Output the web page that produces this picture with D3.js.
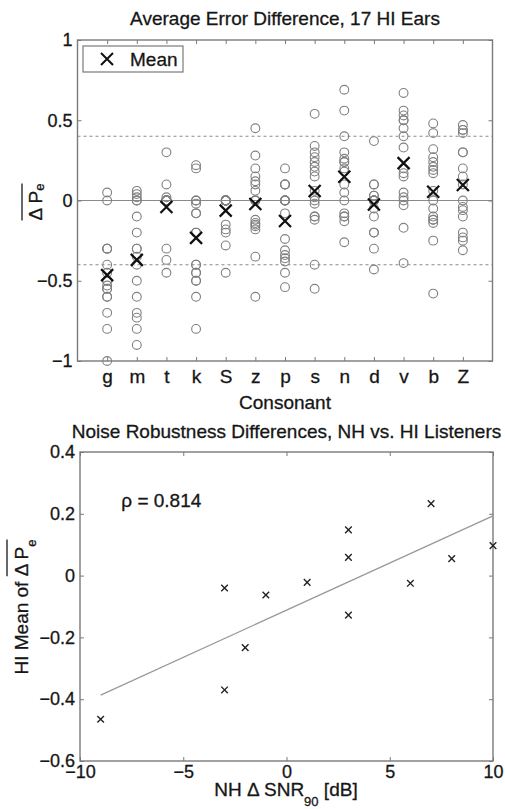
<!DOCTYPE html>
<html>
<head>
  <meta charset="utf-8">
  <title>Average Error Difference / Noise Robustness</title>
  <style>
    body { margin: 0; background: #fff; }
    svg { display: block; font-family: "Liberation Sans", Arial, sans-serif; }
    svg text { fill: #161616; stroke: #161616; stroke-width: 0.3px; }
    .tick line { stroke: #7a7a7a; }
  </style>
</head>
<body>
<svg width="505" height="809"></svg>
<script src="https://d3js.org/d3.v7.min.js"></script>
<script>
// consonants in the order they appear on the top panel
var consonants = ['g', 'm', 't', 'k', 'S', 'z', 'p', 's', 'n', 'd', 'v', 'b', 'Z'];

// per-ear error difference (17 HI ears)
var earDiffs = [
  [0.05, 0.0, -0.3, -0.3, -0.3, -0.4, -0.45, -0.5, -0.5, -0.53, -0.55, -0.55, -0.6, -0.6, -0.7, -0.8, -1.0],
  [0.06, 0.04, 0.02, 0.0, 0.0, -0.1, -0.2, -0.3, -0.3, -0.35, -0.4, -0.5, -0.6, -0.7, -0.73, -0.8, -0.9],
  [0.3, 0.1, 0.02, 0, 0, 0, 0, 0, 0, 0, 0, 0, 0, 0, -0.3, -0.37, -0.45],
  [0.22, 0.2, 0.0, 0.0, -0.02, -0.08, -0.08, -0.2, -0.2, -0.4, -0.4, -0.45, -0.45, -0.5, -0.5, -0.6, -0.8],
  [0, 0, 0, 0, 0, 0, 0, 0, 0, 0, 0, 0, -0.15, -0.18, -0.2, -0.28, -0.45],
  [0.45, 0.28, 0.2, 0.15, 0.12, 0.1, 0.06, 0, 0, 0, -0.12, -0.14, -0.15, -0.16, -0.18, -0.35, -0.6],
  [0.2, 0.1, 0.1, 0.1, 0, 0, 0, 0, 0, -0.08, -0.24, -0.31, -0.34, -0.36, -0.38, -0.45, -0.54],
  [0.54, 0.34, 0.3, 0.27, 0.24, 0.21, 0.18, 0.15, 0.06, 0.02, 0, -0.02, -0.1, -0.1, -0.12, -0.4, -0.55],
  [0.69, 0.56, 0.4, 0.3, 0.26, 0.24, 0.24, 0.2, 0.18, 0.1, 0.05, 0, -0.08, -0.1, -0.1, -0.13, -0.26],
  [0.37, 0.1, 0.1, 0.03, 0.03, 0, 0, 0, 0, 0, 0, -0.05, -0.1, -0.2, -0.2, -0.3, -0.43],
  [0.67, 0.56, 0.53, 0.5, 0.5, 0.45, 0.4, 0.33, 0.2, 0.17, 0.15, 0.05, 0.02, 0, -0.03, -0.17, -0.39],
  [0.48, 0.42, 0.32, 0.27, 0.24, 0.21, 0.19, 0.17, 0.06, 0, -0.05, -0.1, -0.12, -0.12, -0.14, -0.25, -0.58],
  [0.47, 0.44, 0.44, 0.42, 0.3, 0.3, 0.2, 0.15, 0.1, 0, -0.04, -0.06, -0.1, -0.2, -0.23, -0.25, -0.31]
];

// HI mean of delta Pe per consonant (the big crosses, and the y of the bottom panel)
var meanDiff = [-0.465, -0.37, -0.04, -0.233, -0.063, -0.022, -0.128, 0.059, 0.148, -0.025, 0.233, 0.055, 0.097];
// NH delta SNR90 per consonant [dB]
var nhDeltaSnr = [-9, -3, -3, -2, -1, 1, 3, 3, 3, 6, 7, 8, 10];

var topYTicks = [-1, -0.5, 0, 0.5, 1];
var thresholds = [-0.4, 0.4];
var botXTicks = [-10, -5, 0, 5, 10];
var botYTicks = [-0.6, -0.4, -0.2, 0, 0.2, 0.4];

var svg = d3.select('svg');
var grey = '#7a7a7a';

// draw a cross marker path centred at 0,0
function crossPath(h) {
  return 'M' + -h + ',' + -h + 'L' + h + ',' + h + 'M' + -h + ',' + h + 'L' + h + ',' + -h;
}

// axes get their ticks pointing inside and no domain path (the box is a rect)
function styleAxis(g) {
  g.select('.domain').remove();
  g.selectAll('.tick line').attr('stroke', grey);
}

// rotated y label with an overline over delta Pe
function overlinedLabel(parent, x, y, prefix, subShift, gap) {
  var g = parent.append('g').attr('transform', 'translate(' + x + ',' + y + ') rotate(-90)');
  var txt = g.append('text').attr('text-anchor', 'middle').style('font-size', '19px');
  if (prefix) txt.append('tspan').text(prefix);
  txt.append('tspan').text('\u0394 P');
  txt.append('tspan').attr('dy', subShift).style('font-size', '13px').text('e');
  var node = txt.node();
  var total = node.getComputedTextLength();
  var pre = prefix ? node.getSubStringLength(0, prefix.length) : 0;
  g.append('line')
    .attr('x1', -total / 2 + pre).attr('x2', total / 2)
    .attr('y1', -gap).attr('y2', -gap)
    .attr('stroke', '#161616').attr('stroke-width', 1.3);
}

// ---------- top panel ----------
var t = { left: 77.5, right: 492.5, top: 40, bottom: 361 };
var xTop = d3.scalePoint().domain(consonants).range([t.left, t.right]).padding(1);
var yTop = d3.scaleLinear().domain([-1, 1]).range([t.bottom, t.top]);

var upper = svg.append('g');

// dashed threshold lines and the zero line
upper.selectAll('line.thr').data(thresholds).enter().append('line')
  .attr('x1', t.left).attr('x2', t.right)
  .attr('y1', function(d) { return yTop(d); }).attr('y2', function(d) { return yTop(d); })
  .attr('stroke', '#8a8a8a').attr('stroke-width', 1.1).attr('stroke-dasharray', '3,3');
upper.append('line')
  .attr('x1', t.left).attr('x2', t.right).attr('y1', yTop(0)).attr('y2', yTop(0))
  .attr('stroke', '#8a8a8a').attr('stroke-width', 1.2);

upper.append('g').attr('transform', 'translate(' + t.left + ',0)')
  .call(d3.axisLeft(yTop).tickValues(topYTicks).tickSize(-4).tickPadding(5).tickFormat(d3.format('')))
  .call(styleAxis).selectAll('text').style('font-size', '18px');
upper.append('g').attr('transform', 'translate(' + t.right + ',0)')
  .call(d3.axisRight(yTop).tickValues(topYTicks).tickSize(-4).tickFormat(''))
  .call(styleAxis);
upper.append('g').attr('transform', 'translate(0,' + t.bottom + ')')
  .call(d3.axisBottom(xTop).tickSize(-4).tickPadding(9))
  .call(styleAxis).selectAll('text').style('font-size', '19px');
upper.append('g').attr('transform', 'translate(0,' + t.top + ')')
  .call(d3.axisTop(xTop).tickSize(-4).tickFormat(''))
  .call(styleAxis);

upper.append('rect')
  .attr('x', t.left).attr('y', t.top).attr('width', t.right - t.left).attr('height', t.bottom - t.top)
  .attr('fill', 'none').attr('stroke', grey).attr('stroke-width', 1.4);

// individual ears
var earPoints = [];
earDiffs.forEach(function(vals, i) {
  vals.forEach(function(v) { earPoints.push({ c: consonants[i], v: v }); });
});
upper.selectAll('circle.ear').data(earPoints).enter().append('circle')
  .attr('cx', function(d) { return xTop(d.c); })
  .attr('cy', function(d) { return yTop(d.v); })
  .attr('r', 4.4)
  .attr('fill', 'none').attr('stroke', '#808080').attr('stroke-width', 1.1);

// means
upper.selectAll('path.mean').data(meanDiff).enter().append('path')
  .attr('transform', function(d, i) { return 'translate(' + xTop(consonants[i]) + ',' + yTop(d) + ')'; })
  .attr('d', crossPath(6))
  .attr('stroke', '#111').attr('stroke-width', 2.2).attr('fill', 'none');

// legend
upper.append('rect').attr('x', 83).attr('y', 46).attr('width', 100).attr('height', 26)
  .attr('fill', '#fff').attr('stroke', grey).attr('stroke-width', 1.2);
upper.append('path').attr('transform', 'translate(107,59)').attr('d', crossPath(6))
  .attr('stroke', '#111').attr('stroke-width', 2).attr('fill', 'none');
upper.append('text').attr('x', 130).attr('y', 66).style('font-size', '19px').text('Mean');

// titles and labels
upper.append('text').attr('x', (t.left + t.right) / 2).attr('y', 25)
  .attr('text-anchor', 'middle').style('font-size', '19px')
  .text('Average Error Difference, 17 HI Ears');
upper.append('text').attr('x', (t.left + t.right) / 2).attr('y', 409)
  .attr('text-anchor', 'middle').style('font-size', '19px')
  .text('Consonant');

overlinedLabel(upper, 42, 202, '', 1.5, 20);

// ---------- bottom panel ----------
var b = { left: 80, right: 493, top: 452, bottom: 761 };
var xBot = d3.scaleLinear().domain([-10, 10]).range([b.left, b.right]);
var yBot = d3.scaleLinear().domain([-0.6, 0.4]).range([b.bottom, b.top]);

var lower = svg.append('g');

lower.append('g').attr('transform', 'translate(' + b.left + ',0)')
  .call(d3.axisLeft(yBot).tickValues(botYTicks).tickSize(-4).tickPadding(5).tickFormat(d3.format('')))
  .call(styleAxis).selectAll('text').style('font-size', '18px');
lower.append('g').attr('transform', 'translate(' + b.right + ',0)')
  .call(d3.axisRight(yBot).tickValues(botYTicks).tickSize(-4).tickFormat(''))
  .call(styleAxis);
lower.append('g').attr('transform', 'translate(0,' + b.bottom + ')')
  .call(d3.axisBottom(xBot).tickValues(botXTicks).tickSize(-4).tickPadding(4).tickFormat(d3.format('')))
  .call(styleAxis).selectAll('text').style('font-size', '18px');
lower.append('g').attr('transform', 'translate(0,' + b.top + ')')
  .call(d3.axisTop(xBot).tickValues(botXTicks).tickSize(-4).tickFormat(''))
  .call(styleAxis);

lower.append('rect')
  .attr('x', b.left).attr('y', b.top).attr('width', b.right - b.left).attr('height', b.bottom - b.top)
  .attr('fill', 'none').attr('stroke', grey).attr('stroke-width', 1.4);

// least squares fit line over the data range
var mx = d3.mean(nhDeltaSnr), my = d3.mean(meanDiff);
var sxy = d3.sum(nhDeltaSnr, function(x, i) { return (x - mx) * (meanDiff[i] - my); });
var sxx = d3.sum(nhDeltaSnr, function(x) { return (x - mx) * (x - mx); });
var slope = sxy / sxx, icpt = my - slope * mx;
var xr = d3.extent(nhDeltaSnr);
lower.append('line')
  .attr('x1', xBot(xr[0])).attr('y1', yBot(icpt + slope * xr[0]))
  .attr('x2', xBot(xr[1])).attr('y2', yBot(icpt + slope * xr[1]))
  .attr('stroke', '#999').attr('stroke-width', 1.3);

lower.selectAll('path.pt').data(meanDiff).enter().append('path')
  .attr('transform', function(d, i) { return 'translate(' + xBot(nhDeltaSnr[i]) + ',' + yBot(d) + ')'; })
  .attr('d', crossPath(3.3))
  .attr('stroke', '#222').attr('stroke-width', 1.4).attr('fill', 'none');

lower.append('text').attr('x', xBot(-8)).attr('y', 507)
  .style('font-size', '19px').text('\u03c1 = 0.814');

lower.append('text').attr('x', (b.left + b.right) / 2).attr('y', 438)
  .attr('text-anchor', 'middle').style('font-size', '19px')
  .text('Noise Robustness Differences, NH vs. HI Listeners');

var xl = lower.append('text').attr('x', 286).attr('y', 796)
  .attr('text-anchor', 'middle').style('font-size', '19px');
xl.append('tspan').text('NH \u0394 SNR');
xl.append('tspan').attr('dy', 10).style('font-size', '13px').text('90');
xl.append('tspan').attr('dy', -10).text(' [dB]');

overlinedLabel(lower, 28, 607, 'HI Mean of ', 8, 21);
</script>
</body>
</html>
